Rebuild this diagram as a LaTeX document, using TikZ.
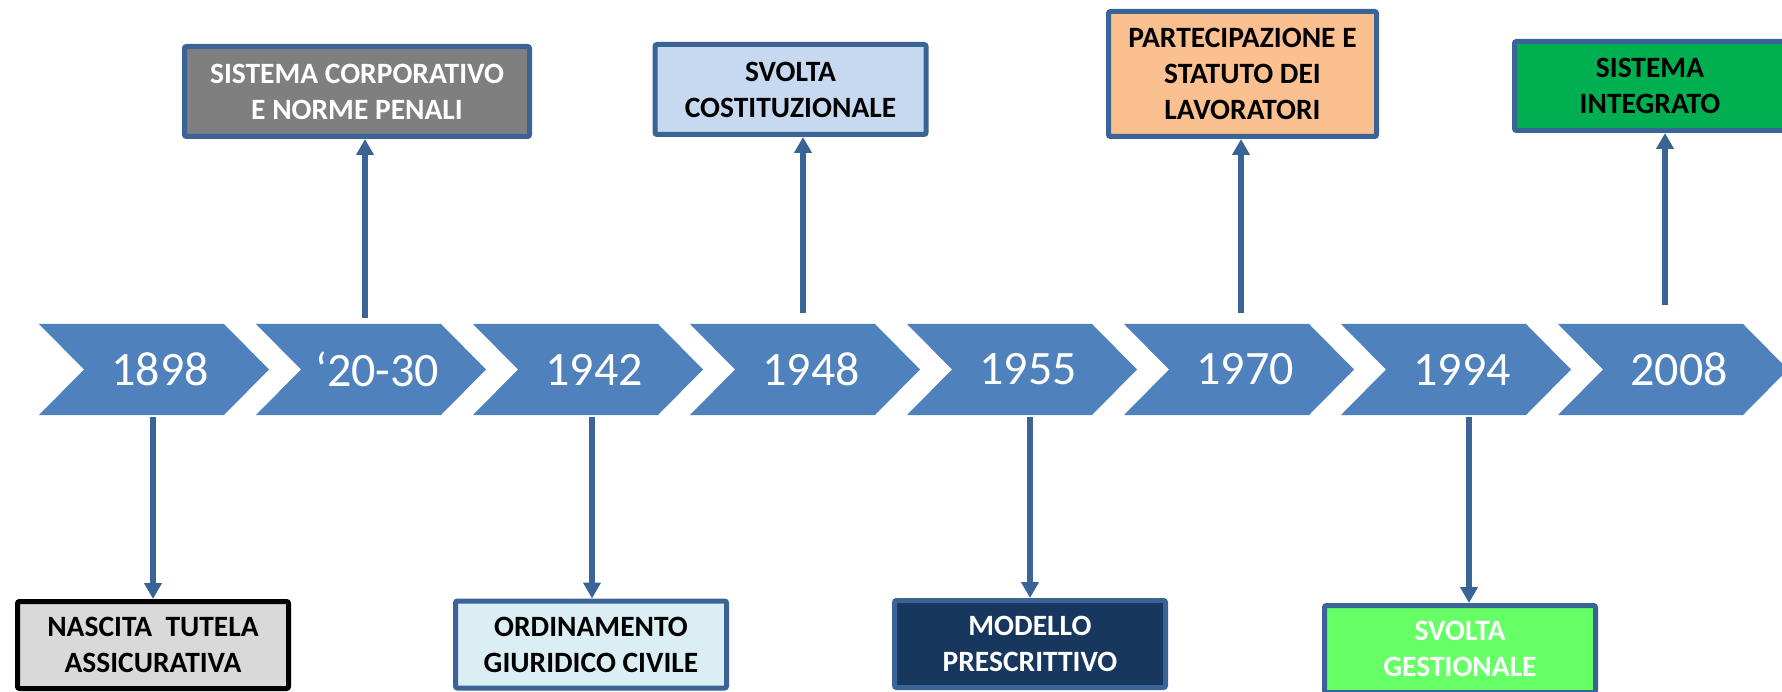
\documentclass[tikz,border=0pt]{standalone}
\usepackage{fontspec}
\setmainfont{Carlito}
\usetikzlibrary{arrows.meta}
\definecolor{chevblue}{HTML}{4F81BD}
\definecolor{edgeblue}{HTML}{3A6496}
\definecolor{greybox}{HTML}{D9D9D9}
\definecolor{darkgrey}{HTML}{7F7F7F}
\definecolor{paleaqua}{HTML}{DBEEF4}
\definecolor{paleblue}{HTML}{C6D9F1}
\definecolor{navy}{HTML}{17375E}
\definecolor{peach}{HTML}{FAC090}
\definecolor{lightgreen}{HTML}{66FF66}
\definecolor{deepgreen}{HTML}{00B050}
\tikzset{
  chevron/.style={fill=chevblue},
  year/.style={text=white, inner sep=0pt, font=\fontsize{48}{58}\selectfont},
  event/.style={draw=edgeblue, line width=5pt, rounded corners=2pt, inner sep=0pt,
    align=center, minimum width=271pt, minimum height=87pt,
    font=\fontsize{29.5}{36}\selectfont\bfseries},
  link/.style={draw=edgeblue, line width=6.5pt, -{Triangle[width=17pt,length=16pt]}}
}
\begin{document}
\begin{tikzpicture}[x=1pt, y=-1pt]
\useasboundingbox (0,0) rectangle (1782,692);

% timeline
\foreach \yr [count=\i from 1] in {1898,‘20-30,1942,1948,1955,1970,1994,2008}{
  \pgfmathsetmacro\L{39+217*(\i-1)}
  \fill[chevron] (\L,324) -- ++(185,0) -- ++(45,45.5) -- ++(-45,45.5) -- ++(-185,0) -- ++(45,-45.5) -- cycle;
  \node[year] (yr\i) at (\L+121,369.5) {\yr};
}

% events
\node[event, draw=black, fill=greybox] (b1) at (153,645) {NASCITA\ \ TUTELA\\ASSICURATIVA};
\node[event, fill=darkgrey, text=white, minimum width=345pt, minimum height=90pt] (b2) at (357,91.5) {SISTEMA CORPORATIVO\\E NORME PENALI};
\node[event, fill=paleaqua] (b3) at (591,644.5) {ORDINAMENTO\\GIURIDICO CIVILE};
\node[event, fill=paleblue, minimum height=90pt] (b4) at (790.5,89.5) {SVOLTA\\COSTITUZIONALE};
\node[event, fill=navy, text=white] (b5) at (1030,644) {MODELLO\\PRESCRITTIVO};
\node[event, fill=peach, minimum width=268pt, minimum height=125pt] (b6) at (1242.5,74) {PARTECIPAZIONE E\\STATUTO DEI\\LAVORATORI};
\node[event, fill=lightgreen, text=white] (b7) at (1460,649) {SVOLTA\\GESTIONALE};
\node[event, fill=deepgreen, minimum height=89pt] (b8) at (1650,86) {SISTEMA\\INTEGRATO};

% links
\coordinate (s1) at (153,417);
\coordinate (s2) at (365,318);
\coordinate (s3) at (592,417);
\coordinate (s4) at (803,313);
\coordinate (s5) at (1030,417);
\coordinate (s6) at (1241,313);
\coordinate (s7) at (1469,417);
\coordinate (s8) at (1665,305);
\draw[link] (s1) -- (s1 |- b1.north);
\draw[link] (s2) -- (s2 |- b2.south);
\draw[link] (s3) -- (s3 |- b3.north);
\draw[link] (s4) -- (s4 |- b4.south);
\draw[link] (s5) -- (s5 |- b5.north);
\draw[link] (s6) -- (s6 |- b6.south);
\draw[link] (s7) -- (s7 |- b7.north);
\draw[link] (s8) -- (s8 |- b8.south);
\end{tikzpicture}
\end{document}
